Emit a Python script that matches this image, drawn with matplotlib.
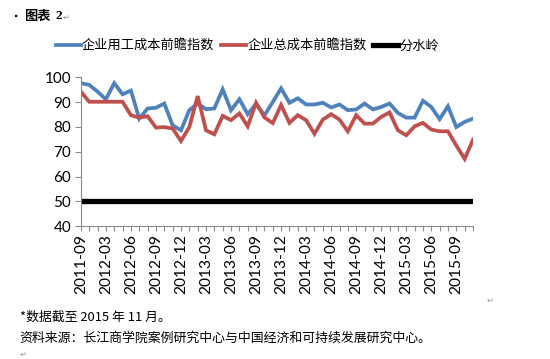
import numpy as np
import pandas as pd
import matplotlib
matplotlib.use("Agg")
import matplotlib.pyplot as plt
from matplotlib.ticker import MultipleLocator

plt.rcParams['font.family'] = ['Noto Sans CJK SC', 'DejaVu Sans']

# category labels: first three points are not monthly, then monthly from 2012-03
months = ["2011-09", "2011-12", "2012-02"] + \
    list(pd.date_range("2012-03", "2015-11", freq="MS").strftime("%Y-%m"))

labour_cost = [97.6, 96.9, 94.2, 91.1, 97.6, 93.1, 94.6, 83.3, 87.4, 87.7,
               89.4, 80.6, 78.6, 86.7, 89.4, 87.1, 87.4, 95.1, 86.7, 91.1,
               85.1, 89.2, 84.6, 90.0, 95.5, 89.7, 91.5, 89.0, 89.0, 89.7,
               87.8, 89.0, 86.7, 87.0, 89.4, 87.0, 88.0, 89.4, 85.6, 83.7,
               83.7, 90.5, 88.0, 83.1, 88.3, 79.9, 82.0, 83.3]

total_cost = [94.2, 90.1, 90.1, 90.1, 90.1, 90.1, 84.7, 83.7, 84.3, 79.7,
              79.9, 79.3, 74.3, 79.9, 92.4, 78.6, 77.0, 84.4, 82.7, 85.4,
              80.2, 89.7, 83.8, 81.5, 88.8, 81.6, 84.7, 82.7, 77.2, 82.9,
              85.1, 82.9, 78.2, 84.7, 81.3, 81.3, 84.0, 85.8, 78.6, 76.6,
              80.2, 81.6, 78.9, 78.2, 78.2, 72.5, 67.1, 74.8]

watershed = [50] * len(months)

series_names = ["企业用工成本前瞻指数", "企业总成本前瞻指数", "分水岭"]

x = np.arange(len(months))

fig = plt.figure(figsize=(5.5, 3.59), dpi=100)
ax = fig.add_axes([0.147, 0.37, 0.713, 0.415])

ax.plot(x, labour_cost, color="#4F81BD", lw=2.7, label=series_names[0],
        solid_joinstyle="miter")
ax.plot(x, total_cost, color="#C0504D", lw=2.7, label=series_names[1],
        solid_joinstyle="miter")
ax.plot(x, watershed, color="black", lw=3.8, label=series_names[2])

ax.set_xlim(0, len(months) - 1)
ax.set_ylim(40, 100)
ax.set_yticks(range(40, 101, 10))
ax.set_xticks(x[::3])
ax.set_xticklabels(months[::3], rotation=90, family="Lato", fontsize=11.2)
ax.xaxis.set_minor_locator(MultipleLocator(1))
for lab in ax.get_yticklabels():
    lab.set_family("Lato")
    lab.set_fontsize(11)

for s in ["top", "right"]:
    ax.spines[s].set_visible(False)
for s in ["left", "bottom"]:
    ax.spines[s].set_color("#8c8c8c")
    ax.spines[s].set_linewidth(0.8)
ax.tick_params(axis="both", which="both", direction="out", color="#8c8c8c",
               width=0.8, labelcolor="black")
ax.tick_params(axis="x", which="both", length=3.5, pad=2)
ax.tick_params(axis="y", length=4, pad=3)

leg = fig.legend(loc="center", bbox_to_anchor=(0.45, 0.872), ncol=3,
                 frameon=False, fontsize=9.5, handlelength=1.9,
                 handletextpad=0.1, columnspacing=0.5)

# document-style captions around the chart
fig.text(0.022, 0.955, "▪", fontsize=6, va="center")
fig.text(0.043, 0.955, "图表", fontsize=9.5, fontweight="bold", va="center")
fig.text(0.1, 0.955, "2", fontsize=9.5, fontweight="bold", va="center",
         family="Liberation Serif")
fig.text(0.113, 0.953, "↵", fontsize=6, color="#999999", va="center",
         family="DejaVu Sans")
fig.text(0.885, 0.165, "↵", fontsize=6, color="#999999", va="center",
         family="DejaVu Sans")
fig.text(0.036, 0.115, "*数据截至 2015 年 11 月。", fontsize=9.3, va="center")
fig.text(0.036, 0.057, "资料来源：长江商学院案例研究中心与中国经济和可持续发展研究中心。",
         fontsize=9.3, va="center")
fig.text(0.036, 0.012, "↵", fontsize=6, color="#999999", va="center",
         family="DejaVu Sans")

fig.savefig("out.png", dpi=100)
